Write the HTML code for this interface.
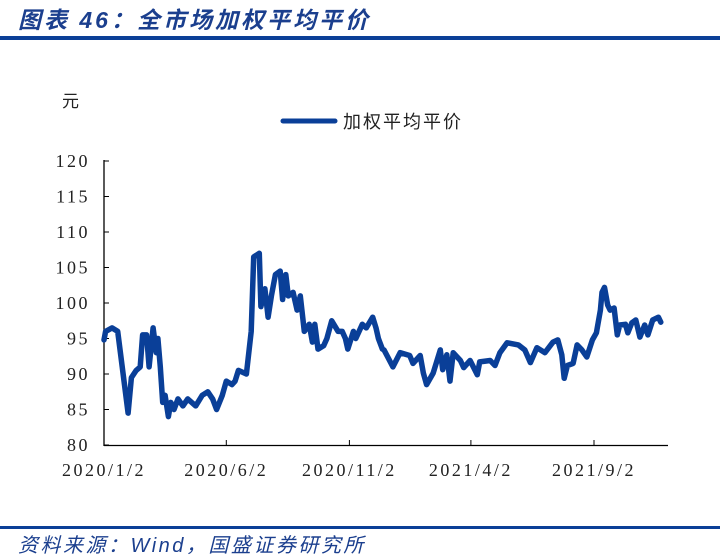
<!DOCTYPE html>
<html><head><meta charset="utf-8"><style>
body{margin:0;background:#fff;width:720px;height:555px;overflow:hidden;position:relative;font-family:"Liberation Sans","Noto Sans CJK SC",sans-serif}
.title{position:absolute;left:18px;top:1px;font-size:23px;font-weight:bold;font-style:italic;color:#1b3f8e;letter-spacing:3px;font-family:"Liberation Sans","Noto Sans CJK SC",sans-serif}
.bar1{position:absolute;left:0;top:36px;width:720px;height:4px;background:#0b3f97}
.bar2{position:absolute;left:0;top:526px;width:720px;height:3px;background:#0b3f97}
.src{position:absolute;left:18px;top:529px;font-size:20px;font-style:italic;color:#1b3f8e;letter-spacing:2.5px}
</style></head><body>
<div class="title">图表 46：全市场加权平均平价</div>
<div class="bar1"></div>
<svg id="chart" width="720" height="555" style="position:absolute;left:0;top:0"></svg>
<div class="bar2"></div>
<div class="src">资料来源：Wind，国盛证券研究所</div>
<script>
const days=[0,2,10,17,30,34,40,45,48,53,56,61,65,67,70,73,76,80,83,87,92,98,104,114,122,129,135,140,147,152,159,163,167,177,183,186,193,195,200,204,208,213,219,222,226,229,235,240,244,249,255,259,262,266,273,277,283,291,296,300,303,310,313,321,326,334,338,341,346,348,359,368,380,384,393,397,401,409,418,421,426,430,434,443,447,455,464,467,480,486,492,501,515,523,530,538,548,558,564,569,572,576,583,588,594,600,607,612,617,619,622,626,629,634,638,641,648,651,656,661,666,672,676,682,689,692];
const values=[94.8,96,96.5,96,84.5,89.5,90.5,91,95.5,95.5,91,96.5,93,95,91,86,87,84,86,85,86.5,85.5,86.5,85.5,87,87.5,86.5,85,87,89,88.5,89,90.5,90,96,106.5,107,99.5,102,98,101,104,104.5,100.5,104,101,101.5,99,101,96,97,94.5,97,93.5,94,95,97.5,96,96,95,93.5,96,95,97,96.5,98,96.5,95,93.5,93.4,91,93,92.6,91.5,92.6,90.1,88.5,90.1,93.4,90.6,92.7,89,93,91.9,90.9,91.9,89.9,91.7,91.9,91.2,93,94.4,94.1,93.4,91.6,93.7,93,94.5,94.8,92.7,89.4,91.2,91.5,94.1,93.4,92.4,94.8,95.8,99,101.5,102.2,99.7,99,99.3,95.5,96.9,97,95.8,97.2,97.6,95.2,96.9,95.5,97.6,98,97.3];
const yTicks=[80,85,90,95,100,105,110,115,120];
const xTickDays=[0,152,305,456,609];
const xTickLabels=["2020/1/2","2020/6/2","2020/11/2","2021/4/2","2021/9/2"];
const NS="http://www.w3.org/2000/svg";
const svg=document.getElementById('chart');
const X=d=>104+d*(490/609);
const Y=v=>445-(v-80)*(284/40);
function mk(t,a){const e=document.createElementNS(NS,t);for(const k in a)e.setAttribute(k,a[k]);svg.appendChild(e);return e;}
let ax=mk('line',{x1:104,y1:160,x2:104,y2:446,stroke:'#000','stroke-width':1.3});


let bx=mk('line',{x1:104,y1:445.5,x2:668,y2:445.5,stroke:'#000','stroke-width':1.3});


yTicks.forEach(v=>{
 let t=mk('line',{x1:104,x2:109,y1:Y(v),y2:Y(v),stroke:'#000','stroke-width':1});
 
 
 let l=mk('text',{x:90,y:Y(v)+6,'text-anchor':'end','font-size':18,'font-family':'Liberation Serif, serif','letter-spacing':'2.5',fill:'#222'});
 l.textContent=v;
 
 
});
xTickDays.forEach((d,i)=>{
 let t=mk('line',{x1:X(d),x2:X(d),y1:440,y2:445,stroke:'#000','stroke-width':1});
 
 
 let l=mk('text',{x:X(d),y:476,'text-anchor':'middle','font-size':18,'font-family':'Liberation Serif, serif','letter-spacing':'2.5',fill:'#222'});
 l.textContent=xTickLabels[i];
 
 
});
let pts=days.map((d,i)=>X(d).toFixed(1)+','+Y(values[i]).toFixed(1)).join(' ');
let pl=mk('polyline',{points:pts,fill:'none',stroke:'#0a3f98','stroke-width':5.5,'stroke-linejoin':'round','stroke-linecap':'round'});


let u=mk('text',{x:62,y:107,'font-size':17,fill:'#222','font-family':'Liberation Sans, Noto Sans CJK SC, sans-serif'});
u.textContent='元';


let ll=mk('line',{x1:283,x2:335,y1:121,y2:121,stroke:'#0a3f98','stroke-width':5,'stroke-linecap':'round'});


let lt=mk('text',{x:343,y:128,'font-size':18,fill:'#222','letter-spacing':'2','font-family':'Liberation Sans, Noto Sans CJK SC, sans-serif'});
lt.textContent='加权平均平价';


</script>
</body></html>
